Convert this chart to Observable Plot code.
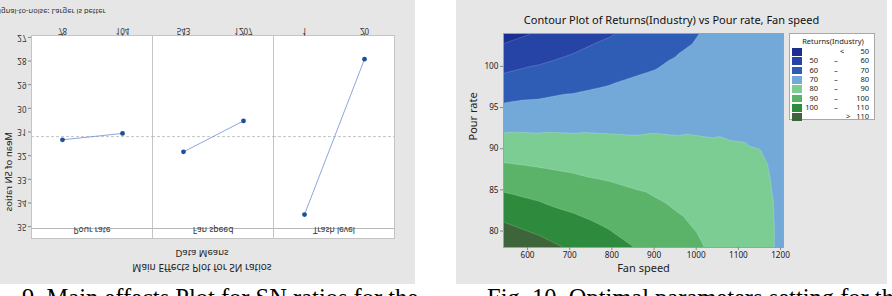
<!DOCTYPE html>
<html><head><meta charset="utf-8">
<script src="https://cdn.jsdelivr.net/npm/d3@7"></script>
<script src="https://cdn.jsdelivr.net/npm/@observablehq/plot@0.6"></script>
<style>
body{margin:0;background:#fff;}
#root{position:relative;width:892px;height:296px;overflow:hidden;font-family:"Noto Sans",sans-serif;background:#fff;}
.panel{position:absolute;background:#e6e6e6;overflow:hidden;}
#left{left:0;top:0;width:415px;height:284px;transform:scaleY(-1);}
#right{left:456px;top:0;width:431px;height:284px;}
.abs{position:absolute;white-space:nowrap;line-height:1;}
.cap{position:absolute;font-family:"Liberation Serif","Times New Roman",serif;font-size:24.5px;color:#000;white-space:nowrap;top:286px;line-height:1;}
svg{position:absolute;left:0;top:0;}
#legend{position:absolute;left:333px;top:33px;width:86px;height:87px;background:#fff;border:1px solid #a8a8a8;box-sizing:border-box;font-size:7.5px;color:#222;}
</style></head><body>
<div id="root">
  <div id="left" class="panel"></div>
  <div id="right" class="panel"></div>
  <div class="cap" style="left:22px;">9. Main effects Plot for SN ratios for the</div>
  <div class="cap" style="left:487px;">Fig. 10. Optimal parameters setting for the</div>
</div>
<script>
// ---------- Left chart: Main Effects Plot for SN ratios (shown flipped) ----------
const factors = ["Pour rate", "Fan speed", "Trash level"];
const levelPositions = ["low", "high"];
const levelLabels = [["78", "104"], ["543", "1207"], ["1", "20"]];
const snMeans = [[31.33, 31.06], [31.84, 30.53], [34.49, 27.92]];
const snTicks = [27, 28, 29, 30, 31, 32, 33, 34, 35];

// ---------- Right chart: Contour Plot of Returns(Industry) ----------
const fanGrid = [543, 626, 709, 792, 875, 958, 1041, 1124, 1166, 1187, 1207];
const pourGrid = [104, 100.75, 97.5, 94.25, 91, 87.75, 84.5, 81.25, 78];
const returnsGrid = [
  [46.6, 50.8, 54.9, 59.1, 63.3, 67.5, 71.7, 75.9, 78.0, 79.1, 79.4],
  [55.6, 58.6, 61.7, 64.7, 67.8, 70.8, 73.9, 76.9, 78.4, 79.2, 79.4],
  [64.6, 66.5, 68.4, 70.3, 72.2, 74.1, 76.0, 77.9, 78.8, 79.3, 79.4],
  [73.6, 74.3, 75.1, 75.8, 76.6, 77.3, 78.1, 78.9, 79.2, 79.4, 79.4],
  [82.6, 82.2, 81.8, 81.4, 81.0, 80.6, 80.2, 79.8, 79.6, 79.5, 79.3],
  [91.6, 90.0, 88.5, 87.0, 85.4, 83.9, 82.4, 80.8, 80.1, 79.6, 79.2],
  [100.6, 97.9, 95.2, 92.8, 90.5, 87.5, 84.5, 81.8, 80.4, 79.8, 79.0],
  [109.6, 105.8, 101.9, 98.3, 94.6, 91.0, 86.8, 82.8, 80.8, 79.9, 78.9],
  [118.6, 113.6, 108.6, 103.7, 98.7, 93.7, 88.7, 83.8, 81.2, 79.9, 78.8]
];
const contourLevels = [50, 60, 70, 80, 90, 100, 110];
const bandColors = ["#1b2f90", "#2643a6", "#2f5db6", "#73a9d8", "#7ccd94", "#5ab368", "#2e8a3c", "#3d6539"];
const fanTicks = [600, 700, 800, 900, 1000, 1100, 1200];
const pourTicks = [80, 85, 90, 95, 100];

// ---------- Build left ----------
const rows = factors.flatMap((f, i) => levelPositions.map((p, j) => ({
  factor: f, pos: p, level: levelLabels[i][j], sn: snMeans[i][j]
})));
const grand = d3.mean(rows, d => d.sn);

const left = Plot.plot({
  width: 415, height: 284,
  marginLeft: 30, marginRight: 20, marginTop: 55, marginBottom: 36,
  style: {background: "transparent", fontFamily: "Noto Sans", fontSize: "8px", color: "#333", overflow: "visible"},
  fx: {domain: factors, padding: 0, axis: null},
  x: {domain: levelPositions, type: "point", padding: 0.5, axis: null},
  y: {domain: [26.92, 35.08], axis: null},
  marks: [
    Plot.frame({fill: "white", stroke: "#c4c4c4", insetTop: -10}),
    Plot.frame({anchor: "top", stroke: "#b8b8b8"}),
    Plot.ruleY([grand], {stroke: "#b4b4b4", strokeDasharray: "3,2", strokeWidth: 0.8}),
    Plot.axisY({ticks: snTicks, tickSize: 3, tickPadding: 2, label: null, fontSize: 8, stroke: "#888"}),
    Plot.axisX({tickSize: 3, tickFormat: () => "", label: null, stroke: "#888"}),
    Plot.text(["Mean of SN ratios"], {fx: () => factors[0], frameAnchor: "left", rotate: -90, dx: -23, fontSize: 9.5, fill: "#222"}),
    Plot.text(rows, {fx: "factor", x: "pos", text: "level", frameAnchor: "bottom", dy: 8, fontSize: 8, fill: "#333"}),
    Plot.text(factors, {fx: d => d, text: d => d, frameAnchor: "top", dy: -5, fontSize: 8.5, fill: "#333"}),
    Plot.line(rows, {fx: "factor", x: "pos", y: "sn", stroke: "#6f8fcf", strokeWidth: 0.8}),
    Plot.dot(rows, {fx: "factor", x: "pos", y: "sn", r: 2.4, fill: "#1d4f9a", stroke: "none"})
  ]
});
const L = document.getElementById("left");
L.appendChild(left);
L.insertAdjacentHTML("beforeend",
  `<div class="abs" style="left:0;width:404px;text-align:center;top:11px;font-size:10px;color:#222;">Main Effects Plot for SN ratios</div>
   <div class="abs" style="left:0;width:404px;text-align:center;top:26px;font-size:9.5px;color:#222;">Data Means</div>
   <div class="abs" style="left:-5px;top:269px;font-size:7.5px;color:#333;">Signal-to-noise: Larger is better</div>`);

// ---------- Build right ----------
const grid = pourGrid.flatMap((p, i) => fanGrid.map((f, j) => ({fan: f, pour: p, ret: returnsGrid[i][j]})));
const lowest = Math.floor(d3.min(grid, d => d.ret)) - 5;

const right = Plot.plot({
  width: 431, height: 284,
  marginLeft: 47, marginRight: 104, marginTop: 33, marginBottom: 37,
  style: {background: "transparent", fontFamily: "Noto Sans", fontSize: "8.2px", color: "#222"},
  x: {domain: [543, 1207]},
  y: {domain: [78, 104]},
  color: {type: "threshold", domain: contourLevels, range: bandColors},
  marks: [
    Plot.contour(grid, {x: "fan", y: "pour", fill: "ret", thresholds: [lowest, ...contourLevels],
      interpolate: "barycentric", stroke: "#fff", strokeOpacity: 0.3, strokeWidth: 0.6}),
    Plot.frame({stroke: "#a0a0a0"}),
    Plot.axisX({ticks: fanTicks, tickSize: 3, tickPadding: 2, tickFormat: "d", label: null, stroke: "#888"}),
    Plot.axisY({ticks: pourTicks, tickSize: 3, tickPadding: 2, label: null, stroke: "#888"}),
    Plot.text(["Fan speed"], {frameAnchor: "bottom", dy: 24, fontSize: 11, fill: "#222"}),
    Plot.text(["Pour rate"], {frameAnchor: "left", rotate: -90, dx: -30, fontSize: 11, fill: "#222"})
  ]
});
const R = document.getElementById("right");
R.appendChild(right);
R.insertAdjacentHTML("beforeend",
  `<div class="abs" style="left:0;width:431px;text-align:center;top:14px;font-size:11px;color:#111;">Contour Plot of Returns(Industry) vs Pour rate, Fan speed</div>`);

// legend
const lg = document.createElement("div");
lg.id = "legend";
let html = `<div class="abs" style="left:0;width:86px;text-align:center;top:4px;">Returns(Industry)</div>`;
bandColors.forEach((c, i) => {
  const top = 14 + i * 9.35;
  const last = bandColors.length - 1;
  const lo = (i === 0 || i === last) ? "" : contourLevels[i - 1];
  const hi = i === last ? contourLevels[i - 1] : contourLevels[i];
  const op = i === 0 ? "<" : (i === last ? ">" : "–");
  const opLeft = i === 0 ? 50 : (i === last ? 56 : 44);
  html += `<div class="abs" style="left:2px;top:${top}px;width:10px;height:7.5px;background:${c};"></div>`;
  html += `<div class="abs" style="left:10px;width:18px;text-align:right;top:${top}px;">${lo}</div>`;
  html += `<div class="abs" style="left:${opLeft}px;top:${top}px;">${op}</div>`;
  html += `<div class="abs" style="left:60px;width:19px;text-align:right;top:${top}px;">${hi}</div>`;
});
lg.innerHTML = html;
R.appendChild(lg);
</script>
</body></html>
